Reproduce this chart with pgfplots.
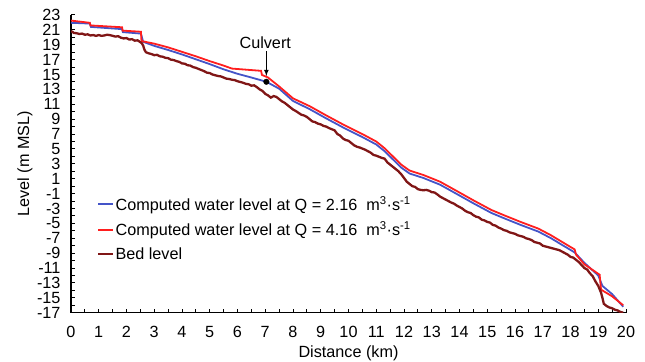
\documentclass[border=0pt]{standalone}
\usepackage{fontspec}
\setmainfont{Liberation Sans}
\usepackage{pgfplots}
\pgfplotsset{compat=1.18}
\definecolor{wlblue}{RGB}{68,84,200}
\definecolor{wlred}{RGB}{255,30,30}
\definecolor{bedred}{RGB}{128,22,22}
\pgfplotstableread{
x y
0.00 22.25
0.68 21.95
0.70 21.60
1.84 21.35
1.86 20.90
2.52 20.75
2.54 19.50
3.00 19.15
3.50 18.65
4.00 18.05
4.50 17.45
5.00 16.80
5.50 16.20
5.80 15.80
6.85 15.50
6.88 14.95
7.10 14.60
7.50 13.40
8.00 11.80
8.60 10.75
9.20 9.50
9.85 8.20
10.50 7.00
11.00 6.00
11.30 5.10
11.60 4.00
11.90 2.90
12.20 2.10
12.70 1.50
13.30 0.60
13.95 -0.75
14.50 -1.90
15.15 -3.20
15.60 -3.90
16.20 -4.80
16.84 -5.70
17.30 -6.60
17.70 -7.50
18.15 -8.50
18.20 -9.20
18.50 -10.50
19.05 -11.90
19.10 -13.90
19.50 -14.80
19.90 -16.00
}\redtab
\pgfplotstableread{
x y
0.00 21.95
0.68 21.85
0.72 21.40
1.84 21.10
1.87 20.70
2.52 20.50
2.60 19.40
3.00 18.85
3.50 18.30
4.00 17.70
4.50 17.05
5.00 16.40
5.50 15.70
6.00 15.10
6.50 14.60
7.04 14.03
7.50 13.10
8.00 11.45
8.60 10.35
9.20 9.10
9.85 7.80
10.50 6.60
11.00 5.60
11.30 4.70
11.60 3.60
11.90 2.50
12.20 1.70
12.70 1.10
13.30 0.20
13.95 -1.15
14.50 -2.30
15.15 -3.60
15.60 -4.30
16.20 -5.20
16.84 -6.10
17.30 -7.00
17.70 -7.90
18.15 -8.90
18.50 -10.30
19.00 -12.00
19.15 -13.40
19.50 -14.50
19.90 -16.20
}\bluetab
\pgfplotstableread{
x y
0.00 20.80
0.05 20.75
0.10 20.60
0.20 20.55
0.30 20.45
0.40 20.50
0.50 20.35
0.60 20.40
0.70 20.25
0.80 20.30
0.90 20.20
1.00 20.30
1.10 20.20
1.20 20.25
1.30 20.35
1.40 20.30
1.50 20.20
1.60 20.10
1.70 20.15
1.80 19.95
1.90 19.85
2.00 19.90
2.10 19.70
2.20 19.75
2.30 19.55
2.40 19.60
2.50 19.35
2.55 19.20
2.60 18.90
2.65 18.30
2.70 18.00
2.80 17.85
2.90 17.75
3.00 17.60
3.10 17.65
3.20 17.45
3.30 17.40
3.40 17.25
3.50 17.20
3.60 17.00
3.70 16.95
3.80 16.80
3.90 16.70
4.00 16.50
4.10 16.45
4.20 16.25
4.30 16.20
4.40 16.00
4.50 15.90
4.60 15.75
4.70 15.60
4.80 15.45
4.90 15.25
5.00 15.20
5.10 15.00
5.20 14.90
5.30 14.80
5.40 14.75
5.50 14.60
5.60 14.45
5.70 14.40
5.80 14.30
5.90 14.25
6.00 14.10
6.10 14.00
6.20 13.90
6.30 13.75
6.40 13.70
6.50 13.50
6.60 13.55
6.70 13.30
6.80 13.00
6.90 12.80
7.00 12.40
7.10 12.20
7.20 11.90
7.30 12.10
7.40 12.00
7.50 11.70
7.60 11.40
7.70 11.20
7.80 10.90
7.90 10.60
8.00 10.30
8.10 10.10
8.20 9.85
8.30 9.60
8.40 9.50
8.50 9.30
8.60 9.00
8.70 8.70
8.80 8.60
8.90 8.40
9.00 8.30
9.10 8.10
9.20 8.00
9.30 7.80
9.40 7.65
9.50 7.50
9.60 7.00
9.70 6.80
9.80 6.40
9.90 6.20
10.00 6.10
10.10 5.80
10.20 5.50
10.30 5.30
10.40 5.20
10.50 5.05
10.60 4.90
10.70 4.70
10.80 4.50
10.90 4.20
11.00 4.10
11.10 3.95
11.20 3.80
11.30 3.70
11.40 3.20
11.50 2.90
11.60 2.60
11.70 2.30
11.80 2.00
11.90 1.60
12.00 1.10
12.10 0.60
12.20 0.30
12.30 0.00
12.40 -0.10
12.50 -0.40
12.60 -0.50
12.70 -0.55
12.80 -0.50
12.90 -0.60
13.00 -0.80
13.10 -0.85
13.20 -1.10
13.30 -1.40
13.40 -1.60
13.50 -1.80
13.60 -2.00
13.70 -2.20
13.80 -2.35
13.90 -2.60
14.00 -2.80
14.10 -3.00
14.20 -3.30
14.30 -3.50
14.40 -3.60
14.50 -3.90
14.60 -4.10
14.70 -4.20
14.80 -4.50
14.90 -4.60
15.00 -4.80
15.10 -4.90
15.20 -5.20
15.30 -5.30
15.40 -5.55
15.50 -5.70
15.60 -5.90
15.70 -6.00
15.80 -6.20
15.90 -6.30
16.00 -6.40
16.10 -6.60
16.20 -6.70
16.30 -6.80
16.40 -7.00
16.50 -7.10
16.60 -7.25
16.70 -7.50
16.80 -7.60
16.90 -7.70
17.00 -8.00
17.10 -8.10
17.20 -8.20
17.30 -8.30
17.40 -8.40
17.50 -8.50
17.60 -8.60
17.70 -8.80
17.80 -9.00
17.90 -9.20
18.00 -9.50
18.10 -9.60
18.20 -9.90
18.30 -10.20
18.40 -10.60
18.50 -11.00
18.60 -11.20
18.70 -11.70
18.80 -12.10
18.90 -12.80
19.00 -13.40
19.10 -14.30
19.15 -15.00
19.20 -15.80
19.30 -16.10
19.40 -16.30
19.50 -16.40
19.60 -16.60
19.70 -16.70
19.80 -16.90
19.90 -17.00
}\bedtab
\begin{document}
\begin{tikzpicture}
\path[use as bounding box] (-71bp,-49.3bp) rectangle (574bp,312.7bp);
\begin{axis}[
  at={(0,0)}, anchor=south west,
  scale only axis, width=555bp, height=297.7bp,
  font=\fontsize{16.2bp}{19bp}\selectfont,
  xmin=0, xmax=20, ymin=-17, ymax=23,
  axis x line*=bottom, axis y line*=left,
  axis line style={line width=1.2bp, black},
  xtick={0,1,...,20},
  minor xtick={0.5,1.5,...,19.5},
  ytick={-17,-15,...,23},
  yticklabels={-17,-15,-13,-11,-9,-7,-5,-3,-1,1,3,5,7,9,11,13,15,17,19,21,23},
  minor ytick={-16,-14,...,22},
  tick align=inside,
  major tick length=4bp, minor tick length=4bp,
  every tick/.style={black, line width=1bp},
  /pgf/number format/assume math mode=true,
  xticklabel style={yshift=-10bp},
  yticklabel style={xshift=-7bp},
  xlabel={Distance (km)}, ylabel={Level (m MSL)},
  xlabel style={at={(axis description cs:0.5,-0.137)}, anchor=center},
  ylabel style={at={(axis description cs:-0.083,0.5)}, anchor=center},
  legend cell align=left,
  legend style={draw=none, fill=none, at={(axis description cs:0.047,0.3955)}, anchor=north west,
    inner sep=0pt, row sep=8bp, nodes={inner sep=1bp}},
  legend image code/.code={\draw[#1] (0bp,0bp) -- (15bp,0bp);},
]
\addplot[wlblue, line width=1.8bp] table[x=x,y=y] {\bluetab};
\addlegendentry{Computed water level at Q = 2.16\ \ m\textsuperscript{3}·s\textsuperscript{-1}}
\addplot[wlred, line width=1.8bp] table[x=x,y=y] {\redtab};
\addlegendentry{Computed water level at Q = 4.16\ \ m\textsuperscript{3}·s\textsuperscript{-1}}
\addplot[bedred, line width=2.3bp] table[x=x,y=y] {\bedtab};
\addlegendentry{Bed level}
\addplot[only marks, mark=*, mark size=2.8bp, black, forget plot] coordinates {(7.04,14.03)};
\draw[line width=1.1bp, -latex] (axis cs:7.04,18.1) -- (axis cs:7.04,14.8);
\node[font=\fontsize{16.2bp}{19bp}\selectfont] at (axis cs:7.0,19.3) {Culvert};
\end{axis}
\end{tikzpicture}
\end{document}
